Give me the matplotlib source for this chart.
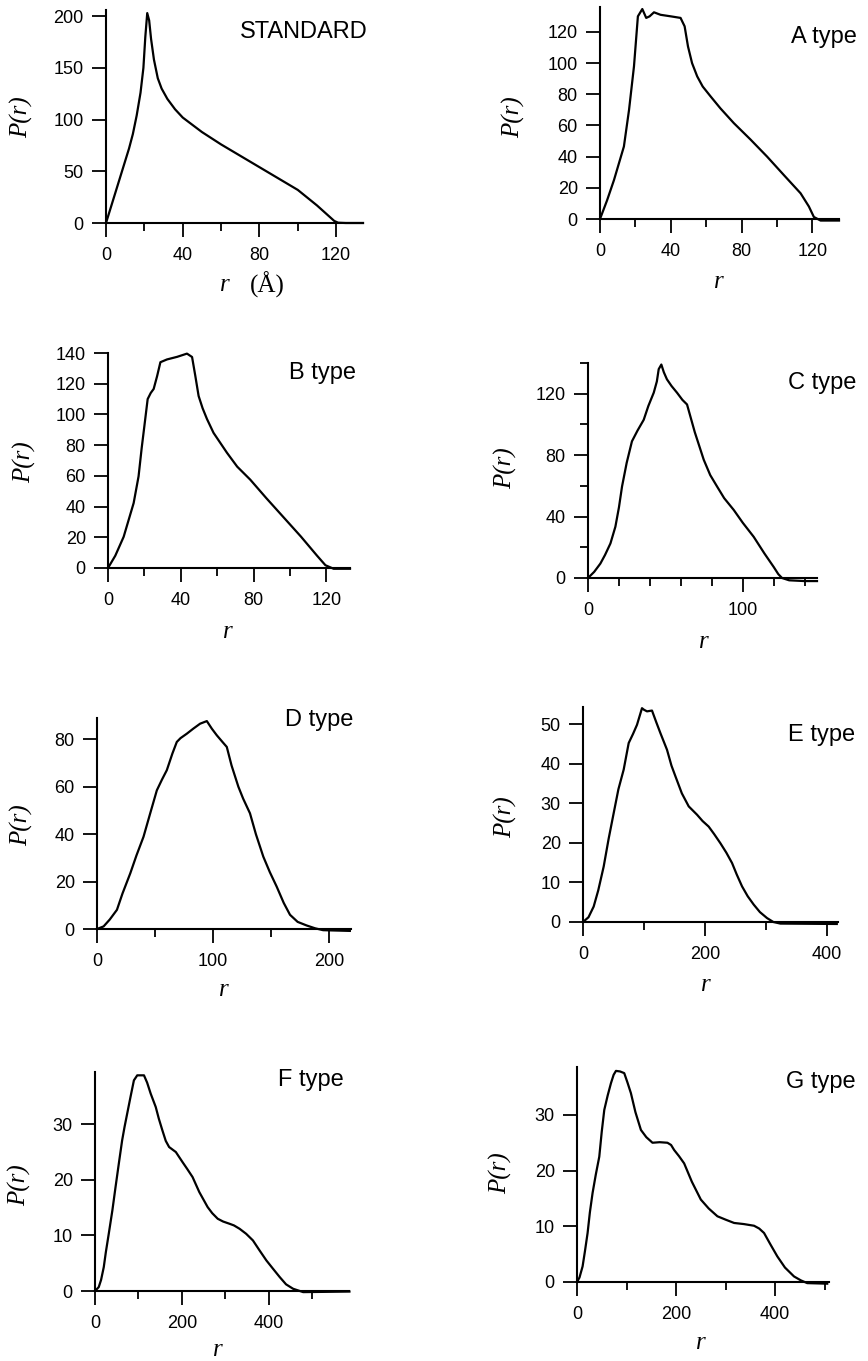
import matplotlib
matplotlib.use("Agg")
import matplotlib.pyplot as plt
from matplotlib.ticker import FixedLocator

W, H = 868, 1361  # figure size in pixels

# P(r) curves, values (r in Angstrom)
std_r = [0, 4, 8, 12, 14, 16, 18, 19.5, 20.5, 21.5, 22.5, 23.5, 25, 27, 29, 32, 36, 40, 45, 50, 60, 70, 80, 90, 100, 110, 116, 119, 121, 125, 134]
std_p = [0, 24, 48, 72, 86, 104, 126, 150, 180, 203, 196, 178, 158, 140, 130, 120, 110, 102, 95, 88, 76, 65, 54, 43, 32, 17, 7, 2, 0.3, 0, 0]

a_r = [0, 4, 7.9, 13.5, 16.4, 19.2, 21.4, 23.9, 26.1, 28, 30.5, 34.2, 40, 45.5, 47.8, 49.7, 52, 54.9, 58, 62.5, 68, 75.6, 85, 94.4, 104, 113.3, 118, 120.8, 124.6, 135]
a_p = [0, 12, 25, 46.5, 70, 98, 130, 134.7, 129, 130, 132.6, 131, 130, 129, 123.6, 110.7, 100, 91.5, 85, 78.6, 71, 61.5, 51, 40, 28, 16.5, 8, 1.3, -1, -1]

b_r = [0, 4, 8.6, 14.1, 16.8, 18.5, 20, 21.8, 23.5, 25.1, 27, 28.8, 32.4, 38, 43.4, 46.2, 48, 49.8, 52, 54.4, 58, 65.4, 71, 78.2, 87, 96.5, 106, 114.9, 119.5, 124, 133]
b_p = [0, 8, 20.3, 42.3, 59.7, 78, 92.5, 110, 114, 116.6, 125, 134, 135.8, 137.5, 139.6, 137.4, 125, 112, 104, 97, 88, 75, 66, 57.5, 45.5, 33, 20.5, 8, 1.8, -0.5, -0.5]

c_r = [0, 4, 8, 11, 14.5, 17.7, 20, 22, 25, 28.4, 32, 36, 39, 42.5, 44.5, 45.7, 47.4, 49, 51, 54, 57.5, 61, 64, 69, 74.8, 79, 83.4, 88, 94.2, 100, 107.1, 114, 120, 123, 125.4, 130, 140, 148]
c_p = [0, 4, 9.4, 15, 22.5, 33.4, 46, 59.6, 75, 89, 96, 103, 112, 120.7, 128, 136, 139, 134, 129.4, 125, 120.7, 116, 113, 95, 77, 67, 59.6, 52, 44.3, 36, 26.8, 16, 7.2, 2.5, 0, -1.5, -2, -2]

d_r = [0, 5.7, 11, 17.2, 22, 28.7, 34, 40.1, 46, 51.6, 56, 60.2, 65, 68.8, 72, 77.5, 83, 88.9, 94.7, 99, 103.3, 108, 111.9, 116, 121.9, 126, 131.9, 137, 143.4, 149, 154.9, 161, 166.4, 173, 180.7, 188, 195, 218]
d_p = [0, 1.1, 4, 8.1, 15, 23.5, 31, 38.9, 49, 58.5, 63, 67, 74, 78.9, 80.5, 82.4, 84.5, 86.6, 87.7, 84.5, 81.7, 79, 76.8, 69, 60, 55, 48.8, 40, 30.5, 24, 17.9, 11, 6, 3, 1.5, 0.3, -0.5, -0.8]

e_r = [0, 9, 17.5, 25, 33.9, 42, 50.3, 58, 66.7, 74.9, 82, 88.5, 96.7, 100, 104.9, 113.1, 120, 126.9, 137.7, 145, 151.5, 162, 173.3, 186.9, 196, 206, 215, 225.2, 235, 244.3, 252, 260.7, 270, 279.8, 290, 301.6, 312, 323.6, 416]
e_p = [0, 1.2, 3.9, 8, 14, 21, 27.5, 33.5, 38.5, 45.2, 47.5, 49.8, 54, 53.6, 53.2, 53.4, 50.5, 47.7, 43.5, 39.5, 36.8, 32.5, 29.2, 27.1, 25.5, 24.1, 22.2, 19.9, 17.5, 14.9, 12, 9, 6.5, 4.4, 2.5, 1, 0, -0.4, -0.5]

f_r = [0, 8.6, 14, 20.2, 25, 31.7, 40, 47.3, 55, 62.5, 68, 74.1, 82, 89.6, 97.3, 112.8, 120, 128.3, 139.9, 147, 155.2, 163, 170.7, 186.2, 201.5, 212, 224.7, 240.2, 259.4, 270, 282.6, 295, 309.7, 320, 332.9, 348, 363.7, 379, 394.7, 410, 425.5, 440, 456.3, 479.5, 586]
f_p = [0, 0.7, 2, 4.3, 7, 10.3, 14.5, 18.7, 23, 27.1, 29.5, 31.9, 35, 37.9, 38.8, 38.8, 37.5, 35.5, 33.1, 31, 28.9, 27, 25.9, 25, 23.2, 22, 20.5, 17.8, 15.1, 14, 13, 12.5, 12.1, 11.8, 11.2, 10.3, 9.1, 7.3, 5.5, 4, 2.5, 1.2, 0.4, -0.2, -0.1]

g_r = [0, 5, 11.3, 16, 21.4, 26, 31.5, 38, 45, 50, 55.1, 62, 68.6, 74, 78.7, 87, 95.4, 102, 108.9, 118, 129.1, 140, 152.5, 167, 182.7, 190, 196.2, 206, 216.4, 232, 250.1, 266, 283.6, 300, 317.3, 337, 357.6, 368, 377.8, 391, 404.6, 420, 438.3, 452, 465, 505.4]
g_p = [0, 0.8, 2.8, 5.5, 8.8, 12.5, 16, 19.3, 22.5, 27, 30.9, 33.5, 35.7, 37.2, 37.9, 37.8, 37.5, 35.8, 33.9, 30.5, 27.3, 26, 25, 25.1, 25, 24.6, 23.7, 22.6, 21.3, 18, 14.8, 13.2, 11.8, 11.2, 10.6, 10.4, 10.1, 9.6, 8.8, 6.7, 4.6, 2.6, 1, 0.3, -0.2, -0.3]

titles = ["STANDARD", "A type", "B type", "C type", "D type", "E type", "F type", "G type"]


def px_axes(fig, left, right, bottom, top):
    """Axes from pixel box (origin top-left)."""
    return fig.add_axes([left / W, 1 - bottom / H, (right - left) / W, (bottom - top) / H])


def fig_text(fig, x, y, s, **kw):
    fig.text(x / W, 1 - y / H, s, **kw)


# layout: (r, p, title, axes box px, xmax, ymax, x major, x minor, y major, y minor,
#          title pos, ylabel pos, xlabel pos)
panels = [
    (std_r, std_p, titles[0], (106, 363, 223, 10), 134, 206,
     [0, 40, 80, 120], [20, 60, 100], [0, 50, 100, 150, 200], [],
     (240, 32), (22, 117), (225, 285)),
    (a_r, a_p, titles[1], (600, 839, 219, 7), 135, 136,
     [0, 40, 80, 120], [20, 60, 100], [0, 20, 40, 60, 80, 100, 120], [],
     (791, 37), (514, 117), (719, 282)),
    (b_r, b_p, titles[2], (108, 350, 568, 353), 133, 140,
     [0, 40, 80, 120], [20, 60, 100], [0, 20, 40, 60, 80, 100, 120, 140], [],
     (289, 373), (25, 462), (228, 632)),
    (c_r, c_p, titles[3], (588, 817, 578, 363), 148, 140,
     [0, 100], [20, 40, 60, 80, 120, 140], [0, 40, 80, 120], [20, 60, 100, 140],
     (788, 383), (506, 468), (704, 642)),
    (d_r, d_p, titles[4], (97, 351, 929, 718), 219, 89,
     [0, 100, 200], [50, 150], [0, 20, 40, 60, 80], [],
     (285, 720), (22, 825), (224, 990)),
    (e_r, e_p, titles[5], (583, 838, 922, 707), 418, 54.3,
     [0, 200, 400], [100, 300], [0, 10, 20, 30, 40, 50], [],
     (788, 735), (506, 817), (706, 985)),
    (f_r, f_p, titles[6], (95, 349, 1291, 1072), 585, 39.4,
     [0, 200, 400], [100, 300, 500], [0, 10, 20, 30], [],
     (278, 1080), (20, 1185), (218, 1350)),
    (g_r, g_p, titles[7], (577, 829, 1282, 1067), 509, 38.6,
     [0, 200, 400], [100, 300, 500], [0, 10, 20, 30], [],
     (786, 1082), (501, 1173), (701, 1343)),
]

tick_font = "Liberation Sans"
serif = "Liberation Serif"

fig = plt.figure(figsize=(W / 100, H / 100), dpi=100)

for (r, p, title, box, xmax, ymax, xmaj, xmin, ymaj, ymin,
     tpos, ylpos, xlpos) in panels:
    ax = px_axes(fig, *box)
    ax.plot(r, p, color="black", linewidth=1.6, clip_on=False,
            solid_joinstyle="round")
    ax.set_xlim(0, xmax)
    ax.set_ylim(0, ymax)
    for side in ["top", "right"]:
        ax.spines[side].set_visible(False)
    for side in ["left", "bottom"]:
        ax.spines[side].set_linewidth(1.5)
    ax.xaxis.set_major_locator(FixedLocator(xmaj))
    ax.xaxis.set_minor_locator(FixedLocator(xmin))
    ax.yaxis.set_major_locator(FixedLocator(ymaj))
    ax.yaxis.set_minor_locator(FixedLocator(ymin))
    ax.tick_params(which="major", direction="out", length=10, width=1.3,
                   labelsize=13)
    ax.tick_params(axis="x", which="major", pad=7)
    ax.tick_params(axis="y", which="major", pad=6)
    ax.tick_params(which="minor", direction="out", length=6, width=1.3)
    for lab in ax.get_xticklabels() + ax.get_yticklabels():
        lab.set_family(tick_font)

    fig_text(fig, tpos[0], tpos[1], title, fontsize=17, family=tick_font,
             ha="left", va="center")
    fig_text(fig, ylpos[0], ylpos[1], "P(r)", fontsize=18, family=serif,
             style="italic", rotation=90, ha="center", va="center")
    if title == "STANDARD":
        fig_text(fig, xlpos[0], xlpos[1], "r", fontsize=18, family=serif,
                 style="italic", ha="center", va="center")
        fig_text(fig, xlpos[0] + 42, xlpos[1], "(Å)", fontsize=18, family=serif,
                 ha="center", va="center")
    else:
        fig_text(fig, xlpos[0], xlpos[1], "r", fontsize=18, family=serif,
                 style="italic", ha="center", va="center")

fig.savefig("out.png", dpi=100)
